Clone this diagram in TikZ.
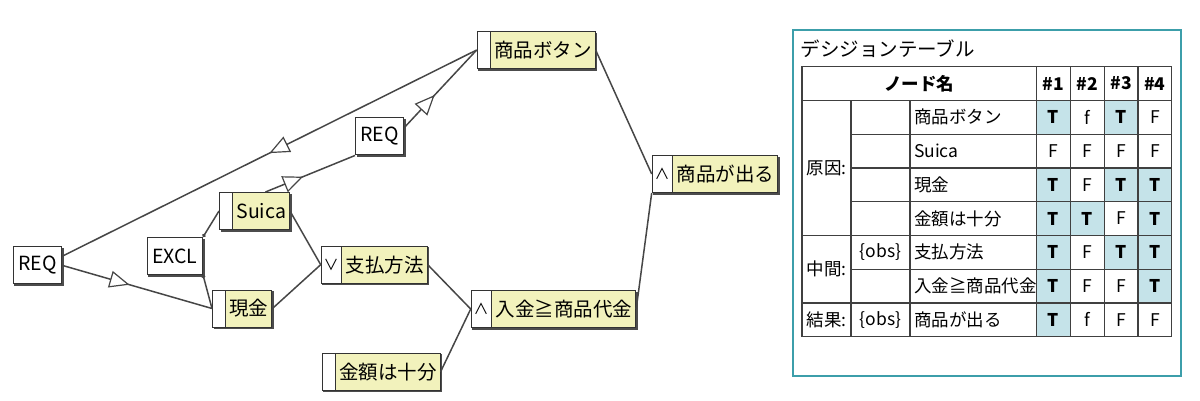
\documentclass[tikz,border=0pt]{standalone}
\usepackage{fontspec}
\setmainfont{Noto Sans CJK JP}
\usetikzlibrary{
  arrows.meta,
  positioning,
  backgrounds,
  shapes.multipart,
  decorations.markings,
}
\definecolor{factyellow}{RGB}{242,242,188}
\definecolor{trueblue}{RGB}{197,227,233}
\definecolor{panelteal}{RGB}{60,158,170}
\definecolor{linegray}{RGB}{70,70,70}
\newcommand{\nodefont}{\fontsize{19.5}{22}\selectfont}
\newcommand{\tblfont}{\fontsize{17.5}{20}\selectfont}
\newcommand{\gate}[1]{\makebox[13pt]{\fontsize{15}{16}\selectfont #1}}
\tikzset{
  >={Triangle[length=20pt,width=17pt,open,fill=white]},
}

\begin{document}
\begin{tikzpicture}[
        x=1pt, y=-1pt,
        plainbox/.style={draw=black!80, line width=1pt, fill=white, anchor=west,
          minimum height=37pt, inner xsep=5pt, inner ysep=0pt, font=\nodefont},
        factbox/.style={draw=black!80, line width=1pt, anchor=west,
          rectangle split, rectangle split horizontal, rectangle split parts=2,
          rectangle split part fill={white,factyellow},
          minimum height=37pt, inner xsep=3.5pt, inner ysep=0pt, font=\nodefont},
        link/.style={draw=linegray, line width=1.5pt},
        midarrow/.style={postaction={decorate, decoration={markings,
          mark=at position #1 with {\arrow[line width=1.2pt]{>}}}}},
        tblline/.style={draw=black!75, line width=1.2pt},
        cellbox/.style={minimum width=33.75pt, minimum height=33.75pt,
          inner sep=0pt, font=\tblfont},
        valT/.style={cellbox, fill=trueblue, font=\tblfont\bfseries},
        valF/.style={cellbox},
        valf/.style={cellbox},
      ]
      \useasboundingbox (0,0) rectangle (1200,401);

      % cause-effect graph
      \node[plainbox] (reqA) at (12.7,265.3) {REQ};
      \node[plainbox] (excl) at (146.7,256) {EXCL};
      \node[plainbox] (reqB) at (355,136.5) {REQ};
      \node[factbox] (suica) at (219,211) {\nodepart{two}Suica};
      \node[factbox] (genkin) at (212,308.5) {\nodepart{two}現金};
      \node[factbox] (button) at (476.7,50) {\nodepart{two}商品ボタン};
      \node[factbox] (pay) at (320.7,264.7) {\gate{∨}\nodepart{two}支払方法};
      \node[factbox] (enough) at (321.7,371.7) {\nodepart{two}金額は十分};
      \node[factbox] (deposit) at (470.7,309) {\gate{∧}\nodepart{two}入金≧商品代金};
      \node[factbox] (out) at (651.7,174) {\gate{∧}\nodepart{two}商品が出る};

      \begin{scope}[on background layer]
        \foreach \n in {reqA,excl,reqB,suica,genkin,button,pay,enough,deposit,out}
          \fill[black!70] ([xshift=1.6pt,yshift=-1.6pt]\n.north west)
            rectangle ([xshift=1.6pt,yshift=-1.6pt]\n.south east);
      \end{scope}

      \draw[link, midarrow=0.5] (button.west) -- (reqA.20);
      \draw[link, midarrow=0.45] (reqA.east) -- (genkin.west);
      \draw[link, midarrow=0.42] (suica.60) -- (reqB.south west);
      \draw[link, midarrow=0.42] (reqB.20) -- (button.west);
      \draw[link, {Circle[length=3.5pt]}-] (excl.north east) -- (suica.west);
      \draw[link, {Circle[length=3.5pt]}-] (excl.south east) -- (genkin.west);
      \draw[link] (suica.east) -- (pay.west);
      \draw[link] (genkin.east) -- (pay.west);
      \draw[link] (pay.east) -- (deposit.west);
      \draw[link] (enough.east) -- (deposit.west);
      \draw[link] (deposit.east) -- (out.south west);
      \draw[link] (button.east) -- (out.west);

      % decision table
      \draw[panelteal, line width=2pt] (793,30) rectangle (1181,376);
      \node[anchor=west, font=\nodefont] (dt-title) at (797,49) {デシジョンテーブル};

      \foreach \lbl/\va/\vb/\vc/\vd [count=\r] in {
          商品ボタン/T/f/T/F, Suica/F/F/F/F, 現金/T/F/T/T, 金額は十分/T/T/F/T,
          支払方法/T/F/T/T, 入金≧商品代金/T/F/F/T, 商品が出る/T/f/F/F}{
        \node[anchor=west, font=\tblfont] (name-\r) at (910.5,{66.7+(\r+0.5)*33.75}) {\lbl};
        \foreach \tv [count=\j] in {\va,\vb,\vc,\vd}
          \node[val\tv] (v-\r-\j) at ({1036.7+(\j-0.5)*33.75},{66.7+(\r+0.5)*33.75}) {\tv};
      }

      \node[font=\tblfont\bfseries] (hd-name) at (919.4,83.6) {ノード名};
      \foreach \j in {1,...,4}
        \node[font=\tblfont\bfseries] (hd-\j) at ({1036.7+(\j-0.5)*33.75},83.6) {\#\j};
      \node[font=\tblfont] (grp-cause) at (826.5,167.95) {原因:};
      \node[font=\tblfont] (grp-mid) at (826.5,269.2) {中間:};
      \node[font=\tblfont] (grp-result) at (826.5,319.8) {結果:};
      \node[font=\tblfont] (obs-pay) at (880.5,252.3) {\{obs\}};
      \node[font=\tblfont] (obs-out) at (880.5,319.8) {\{obs\}};

      \draw[tblline] (802,66.7) rectangle (1171.7,336.7);
      \foreach \x in {1036.7,1070.45,1104.2,1137.95}
        \draw[tblline] (\x,66.7) -- (\x,336.7);
      \foreach \x in {851,910}
        \draw[tblline] (\x,100.45) -- (\x,336.7);
      \foreach \k in {1,5,7}
        \draw[tblline] (802,{66.7+\k*33.75}) -- (1171.7,{66.7+\k*33.75});
      \foreach \k in {2,3,4,6}
        \draw[tblline] (851,{66.7+\k*33.75}) -- (1171.7,{66.7+\k*33.75});
    \end{tikzpicture}
\end{document}
